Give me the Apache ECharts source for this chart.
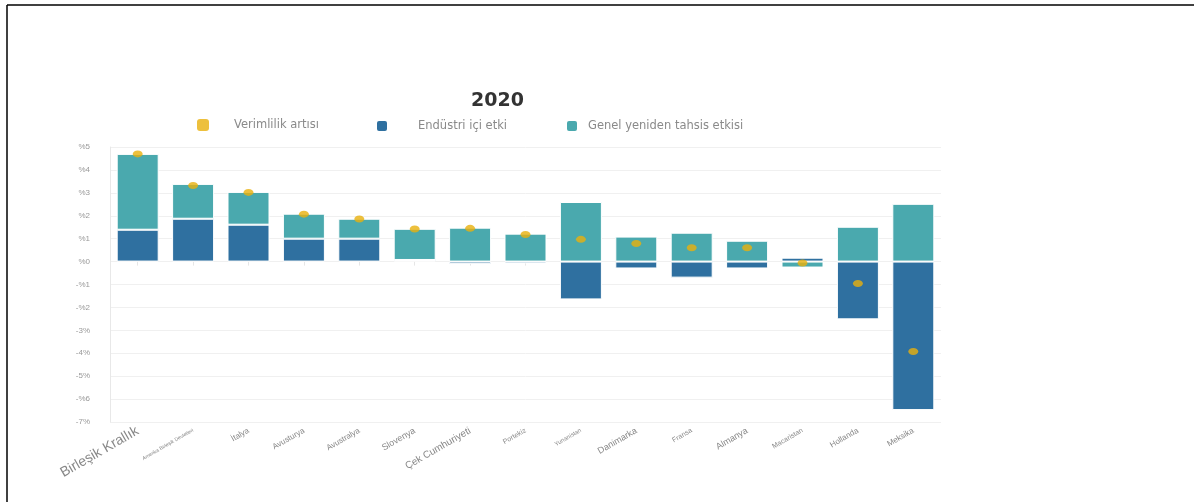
<!DOCTYPE html>
<html>
<head>
<meta charset="utf-8">
<script src="https://cdn.jsdelivr.net/npm/echarts@6/dist/echarts.min.js"></script>
<style>
html, body { margin: 0; padding: 0; background: #fff; }
#main { width: 1194px; height: 502px; }
</style>
</head>
<body>
<div id="main"></div>
<script>
// veriler (yüzde puan)
var ulkeler = ['Birleşik Krallık', 'Amerika Birleşik Devletleri', 'İtalya', 'Avusturya', 'Avustralya',
    'Slovenya', 'Çek Cumhuriyeti', 'Portekiz', 'Yunanistan', 'Danimarka', 'Fransa', 'Almanya',
    'Macaristan', 'Hollanda', 'Meksika'];
var etiketBoyut = [14, 5, 8, 8, 8, 9, 10, 7, 6, 9, 7, 9, 7, 8, 8];
var verimlilik = [4.7, 3.32, 3.02, 2.07, 1.86, 1.42, 1.45, 1.18, 0.97, 0.79, 0.6, 0.6, -0.06, -0.96, -3.92];
var endustriIci = [1.39, 1.87, 1.61, 1.0, 1.0, 0.07, -0.1, -0.08, -1.65, -0.3, -0.7, -0.3, 0.17, -2.52, -6.48];
var genelYeniden = [3.31, 1.52, 1.43, 1.09, 0.87, 1.36, 1.48, 1.22, 2.6, 1.09, 1.26, 0.91, -0.26, 1.52, 2.52];
var yEtiketleri = ['-7%', '-%6', '-5%', '-4%', '-3%', '-%2', '-%1', '%0', '%1', '%2', '%3', '%4', '%5'];

var chart = echarts.init(document.getElementById('main'));

var rich = {};
etiketBoyut.forEach(function (s, i) {
    rich['s' + i] = { fontSize: s, color: '#888', fontFamily: 'Liberation Sans, Arial' };
});

function legendText(pad) {
    return { color: '#8a8a8a', fontSize: 11.5, fontFamily: 'DejaVu Sans', padding: [0, 0, 0, pad] };
}

var option = {
    backgroundColor: '#fff',
    animation: false,
    title: {
        text: '2020',
        left: 466,
        top: 87,
        textStyle: { fontSize: 19, fontWeight: 'bold', color: '#333', fontFamily: 'DejaVu Sans' }
    },
    graphic: [
        { type: 'line', shape: { x1: 7, y1: 5, x2: 1194, y2: 5 }, style: { stroke: '#000', lineWidth: 1.5 } },
        { type: 'line', shape: { x1: 7, y1: 5, x2: 7, y2: 502 }, style: { stroke: '#000', lineWidth: 1.5 } }
    ],
    legend: [
        { data: ['Verimlilik artısı'], left: 197, top: 119, icon: 'roundRect', itemWidth: 12, itemHeight: 12, textStyle: legendText(20), padding: 0 },
        { data: ['Endüstri içi etki'], left: 375, top: 119, icon: 'roundRect', itemWidth: 12, itemHeight: 12, textStyle: legendText(25), padding: 0 },
        { data: ['Genel yeniden tahsis etkisi'], left: 565, top: 119, icon: 'roundRect', itemWidth: 12, itemHeight: 12, textStyle: legendText(5), padding: 0 }
    ],
    grid: { left: 110, right: 253, top: 147, bottom: 80 },
    xAxis: {
        type: 'category',
        data: ulkeler,
        axisLine: { show: false },
        axisTick: { show: true, alignWithLabel: true, lineStyle: { color: '#e6e6e6' }, length: 4 },
        axisLabel: {
            interval: 0,
            rotate: 30,
            margin: 8,
            formatter: function (v) {
                var i = ulkeler.indexOf(v);
                return '{s' + i + '|' + v + '}';
            },
            rich: rich
        }
    },
    yAxis: {
        type: 'value',
        min: -7,
        max: 5,
        interval: 1,
        axisLine: { show: true, lineStyle: { color: '#e8e8e8' } },
        axisTick: { show: false },
        splitLine: { lineStyle: { color: '#f0f0f0' } },
        axisLabel: {
            color: '#999',
            fontSize: 8,
            margin: 20,
            formatter: function (v) { return yEtiketleri[v + 7]; }
        }
    },
    series: [
        {
            name: 'Endüstri içi etki',
            type: 'bar',
            stack: 'toplam',
            barWidth: 42,
            data: endustriIci,
            itemStyle: { color: '#2f70a0', borderColor: '#fff', borderWidth: 1 }
        },
        {
            name: 'Genel yeniden tahsis etkisi',
            type: 'bar',
            stack: 'toplam',
            barWidth: 42,
            data: genelYeniden,
            itemStyle: { color: '#4aa9ae', borderColor: '#fff', borderWidth: 1 }
        },
        {
            name: 'Verimlilik artısı',
            type: 'scatter',
            symbol: 'circle',
            symbolSize: [10, 7],
            data: verimlilik,
            itemStyle: { color: '#e8b00c' },
            z: 5
        }
    ]
};

chart.setOption(option);
</script>
</body>
</html>
